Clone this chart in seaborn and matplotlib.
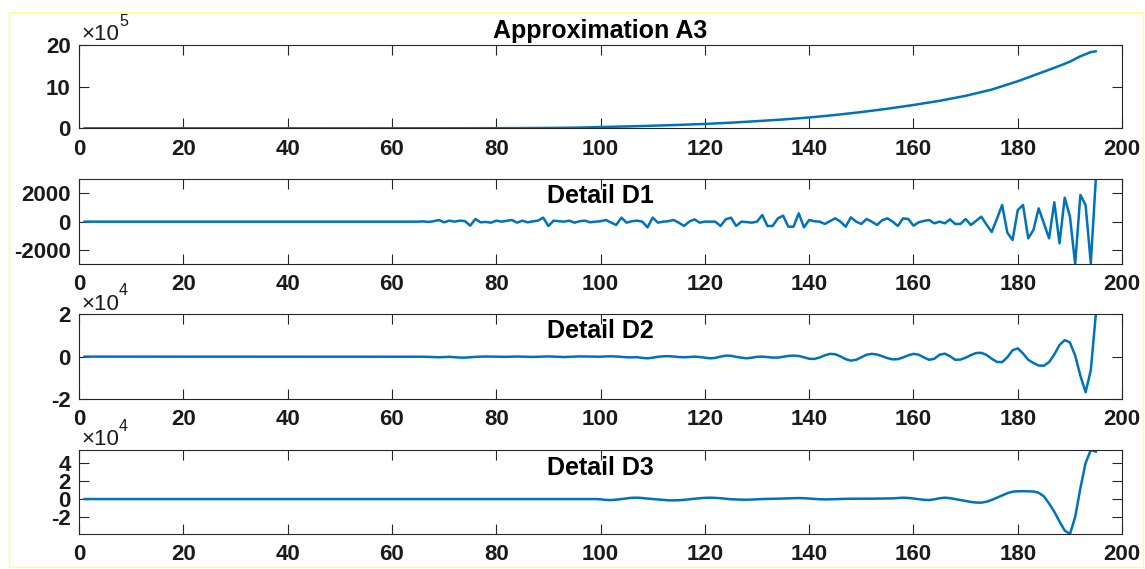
import matplotlib
matplotlib.use('Agg')

import numpy as np
import seaborn as sns
from matplotlib import pyplot as plt
from matplotlib.patches import Rectangle
from matplotlib.ticker import FuncFormatter

# ---- data ----
x = list(range(1, 196))

# approximation A3 (sparse samples along the smooth curve)
a3_x = [1, 20, 40, 60, 70, 80, 85, 90, 95, 100, 105, 110, 115, 120, 125, 130,
        135, 140, 145, 150, 155, 160, 165, 170, 175, 180, 185, 188, 190, 192,
        194, 195]
a3_val = [0, 0, 0, 500, 1000, 3000, 5000, 9000, 15000, 30000, 45000, 62000,
          82000, 105000, 135000, 172000, 212000, 260000, 320000, 390000,
          470000, 560000, 660000, 780000, 930000, 1130000, 1360000, 1500000,
          1600000, 1730000, 1830000, 1850000]

# detail D1, x = 1..64 flat, then 65..195
d1 = [0] * 64 + [
    0, 20, -20, 30, 115, -45, 70, 0, 70, 40,
    -280, 185, -45, -20, -70, 70, 0, 60, 115, -70,
    70, -45, 20, 70, 280, -300, 70, 30, 0, 70,
    -70, 30, 70, -45, 0, 30, 115, -60, -230, 280,
    -70, 30, 70, 0, -395, 280, -70, 0, 30, 115,
    -70, -300, 0, 160, -70, 0, 0, 0, -300, 160,
    280, -300, 0, -30, -70, 0, 460, -300, -300, 230,
    420, -350, -350, 580, -395, 115, 30, 0, -160, 40,
    230, 0, -350, 300, 0, -160, 185, 0, -230, 100,
    230, 0, -300, 230, 185, -280, -45, 50, 115, -115,
    0, -115, 160, -160, -160, 185, -230, 50, 350, -200,
    -720, 200, 1160, -765, -1280, 810, 1160, -1160, -580, 930,
    -110, -1160, 1350, -1510, 1670, 350, -2950, 1860, 1160, -2900, 3200]

# detail D2, x = 1..64 flat, then 65..195
d2 = [0] * 64 + [
    0, -50, -150, -250, -300, -200, -100, -250, -450, -480,
    -300, -100, 0, 50, 0, -100, -150, -100, 0, 50,
    0, -100, -150, -50, 50, 100, 0, -150, -200, -100,
    50, 100, 50, -50, -100, -50, 100, 150, 50, -150,
    -300, -350, -250, -600, -800, -500, -100, 150, 200, 50,
    -200, -300, -200, 0, -200, -500, -800, -600, 0, 480,
    400, -100, -500, -800, -500, -100, 0, -200, -450, -450,
    -100, 300, 480, 300, -300, -1000, -1100, -400, 600, 1300,
    1100, 100, -1200, -1900, -1500, -300, 900, 1300, 1000, 200,
    -700, -1300, -1200, -400, 600, 1300, 900, -400, -1500, -1000,
    900, 1400, 200, -1500, -1400, -500, 700, 1700, 1800, 800,
    -1000, -2500, -2600, -300, 3000, 3900, 1500, -1500, -3000, -4200,
    -4300, -2600, 1000, 5500, 7800, 6700, 500, -9000, -16800, -6400, 21000]

# detail D3, x = 1..98 flat, then 99..195
d3 = [0] * 98 + [
    0, -300, -1000, -1100, -700, 0, 800, 1400, 1500, 1100,
    500, 0, -500, -1000, -1400, -1500, -1300, -900, -300, 300,
    900, 1300, 1500, 1300, 900, 300, -200, -500, -700, -740,
    -600, -300, 0, 100, 250, 400, 600, 800, 1000, 1100,
    900, 500, 100, -200, -370, -300, -100, 100, 250, 350,
    370, 370, 350, 400, 500, 600, 700, 740, 1100, 1500,
    1200, 600, -200, -900, -1100, -300, 900, 1500, 1000, 0,
    -1100, -2200, -3200, -3900, -4000, -3000, -1000, 1500, 4000, 6500,
    8200, 8600, 8700, 8600, 8400, 7000, 3000, -5000, -14000, -25000,
    -35000, -38800, -20000, 12000, 40000, 54400, 52500]

titles = ['Approximation A3', 'Detail D1', 'Detail D2', 'Detail D3']
x_ticks = list(range(0, 201, 20))

# ---- style ----
sns.set_style('ticks')
plt.rcParams['font.family'] = ['Liberation Sans', 'DejaVu Sans']
plt.rcParams['font.weight'] = 'bold'

LINE = '#0072BD'
DARK = '#262626'

fig = plt.figure(figsize=(11.45, 5.69), dpi=100)

# axes boxes (left, bottom, width, height) in figure fraction
boxes = [(0.069, 0.7745, 0.911, 0.1464),
         (0.069, 0.5360, 0.911, 0.1489),
         (0.069, 0.2988, 0.911, 0.1489),
         (0.069, 0.0615, 0.911, 0.1476)]

series = [(a3_x, a3_val), (x, d1), (x, d2), (x, d3)]
ylims = [(0, 2000000), (-2950, 2950), (-20000, 20000), (min(d3), max(d3))]
yticks = [[0, 1000000, 2000000], [-2000, 0, 2000], [-20000, 0, 20000],
          [-20000, 0, 20000, 40000]]
scales = [1e5, 1, 1e4, 1e4]
exps = ['5', None, '4', '4']
title_y = [1.084, 0.72, 0.72, 0.70]

for i in range(4):
    ax = fig.add_axes(boxes[i])
    xs, ys = series[i]
    sns.lineplot(x=xs, y=ys, ax=ax, color=LINE, linewidth=1.8)

    ax.set_xlim(0, 200)
    ax.set_xticks(x_ticks)
    ax.set_ylim(*ylims[i])
    ax.set_yticks(yticks[i])
    sc = scales[i]
    ax.yaxis.set_major_formatter(FuncFormatter(lambda v, p, sc=sc: '%d' % round(v / sc)))

    ax.tick_params(direction='in', top=True, right=True, length=7, width=0.8,
                   color=DARK, labelsize=16, labelcolor='#1a1a1a')
    ax.tick_params(axis='x', pad=7.5)
    ax.tick_params(axis='y', pad=6)
    for sp in ax.spines.values():
        sp.set_color(DARK)
        sp.set_linewidth(0.8)
        sp.set_visible(True)

    ax.text(0.5, title_y[i], titles[i], transform=ax.transAxes, ha='center',
            va='baseline', fontsize=18, fontweight='bold', color='black',
            zorder=5)

    if exps[i] is not None:
        t = ax.text(0.002, 1.055, '\u00d710', transform=ax.transAxes,
                    ha='left', va='baseline', fontsize=16, fontweight='normal',
                    color='#1a1a1a')
        ax.annotate(exps[i], xy=(1.0, 0.78), xycoords=t, ha='left',
                    va='bottom', fontsize=11.5, fontweight='normal',
                    color='#1a1a1a')

# faint yellow frame around the picture
fig.add_artist(Rectangle((9 / 1145, 2 / 569), 1134 / 1145, 555 / 569,
                         transform=fig.transFigure, fill=False,
                         edgecolor='#ffff88', linewidth=1))

fig.savefig('out.png', dpi=100)
